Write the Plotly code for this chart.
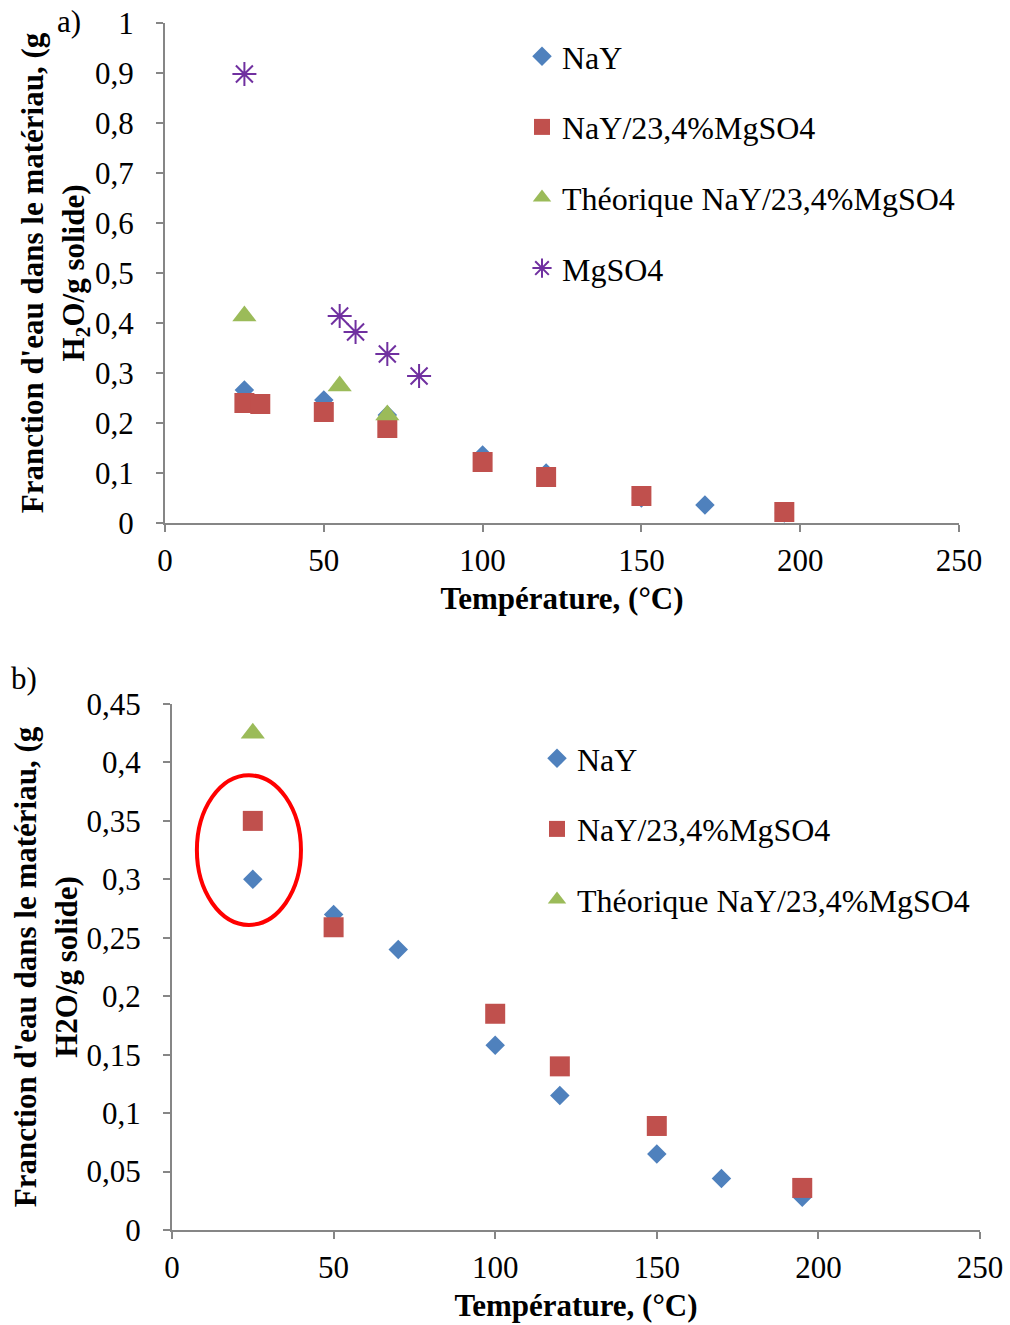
import plotly.graph_objects as go

# ---------- Data: panel a) ----------
a_nay_x = [25, 50, 70, 100, 120, 150, 170, 195]
a_nay_y = [0.266, 0.246, 0.216, 0.136, 0.10, 0.05, 0.036, 0.02]
a_mix_x = [25, 30, 50, 70, 100, 120, 150, 195]
a_mix_y = [0.240, 0.238, 0.222, 0.190, 0.122, 0.092, 0.054, 0.022]
a_theo_x = [25, 55, 70]
a_theo_y = [0.414, 0.274, 0.216]
a_mg_x = [25, 55, 60, 70, 80]
a_mg_y = [0.898, 0.414, 0.382, 0.338, 0.294]

# ---------- Data: panel b) ----------
b_nay_x = [25, 50, 70, 100, 120, 150, 170, 195]
b_nay_y = [0.300, 0.270, 0.240, 0.158, 0.115, 0.065, 0.044, 0.028]
b_mix_x = [25, 50, 100, 120, 150, 195]
b_mix_y = [0.350, 0.259, 0.185, 0.140, 0.089, 0.036]
b_theo_x = [25]
b_theo_y = [0.425]

# ---------- Tick labels ----------
x_ticks = [0, 50, 100, 150, 200, 250]
x_text = ["0", "50", "100", "150", "200", "250"]
a_yticks = [0, 0.1, 0.2, 0.3, 0.4, 0.5, 0.6, 0.7, 0.8, 0.9, 1.0]
a_ytext = ["0", "0,1", "0,2", "0,3", "0,4", "0,5", "0,6", "0,7", "0,8", "0,9", "1"]
b_yticks = [0, 0.05, 0.1, 0.15, 0.2, 0.25, 0.3, 0.35, 0.4, 0.45]
b_ytext = ["0", "0,05", "0,1", "0,15", "0,2", "0,25", "0,3", "0,35", "0,4", "0,45"]

names = ["NaY", "NaY/23,4%MgSO4", "Théorique NaY/23,4%MgSO4", "MgSO4"]
BLUE, RED, GREEN, PURPLE = "#4F81BD", "#C0504D", "#9BBB59", "#7030A0"

FONT = "Liberation Serif"
AXCOL = "#868686"
FS = 31
TFS = 31
LFS = 32

fig = go.Figure()

def add(x, y, name, color, symbol, size, xa, ya, legend, grp):
    mk = dict(color=color, symbol=symbol, size=size)
    if symbol.endswith("open"):
        mk["line"] = dict(color=color, width=2)
    fig.add_trace(go.Scatter(x=x, y=y, mode="markers", name=name, marker=mk,
                             xaxis=xa, yaxis=ya, legend=legend, legendgroup=grp,
                             cliponaxis=False))

add(a_nay_x, a_nay_y, names[0], BLUE, "diamond", 15, "x", "y", "legend", "a1")
add(a_mix_x, a_mix_y, names[1], RED, "square", 20, "x", "y", "legend", "a2")
add(a_theo_x, a_theo_y, names[2], GREEN, "triangle-up", 21, "x", "y", "legend", "a3")
add(a_mg_x, a_mg_y, names[3], PURPLE, "asterisk-open", 20, "x", "y", "legend", "a4")

add(b_nay_x, b_nay_y, names[0], BLUE, "diamond", 15, "x2", "y2", "legend2", "b1")
add(b_mix_x, b_mix_y, names[1], RED, "square", 20, "x2", "y2", "legend2", "b2")
add(b_theo_x, b_theo_y, names[2], GREEN, "triangle-up", 21, "x2", "y2", "legend2", "b3")

W, H = 1010, 1325

def xax(domain, anchor):
    return dict(domain=domain, anchor=anchor, range=[0, 250], tickvals=x_ticks, ticktext=x_text,
                showline=True, linecolor=AXCOL, linewidth=2, ticks="outside", tickcolor=AXCOL,
                ticklen=7, tickwidth=2, showgrid=False, zeroline=False, automargin=False,
                ticklabelstandoff=2,
                tickfont=dict(family=FONT, size=FS, color="black"),
                title=dict(text="<b>Température, (°C)</b>", font=dict(family=FONT, size=TFS, color="black"),
                           standoff=10))

def yax(domain, anchor, rng, tv, tt, title, standoff):
    return dict(domain=domain, anchor=anchor, range=rng, tickvals=tv, ticktext=tt,
                showline=True, linecolor=AXCOL, linewidth=2, ticks="outside", tickcolor=AXCOL,
                ticklen=7, tickwidth=2, showgrid=False, zeroline=False, automargin=False,
                ticklabelstandoff=16,
                tickfont=dict(family=FONT, size=FS, color="black"),
                title=dict(text=title, font=dict(family=FONT, size=TFS, color="black"), standoff=standoff))

fig.update_layout(
    width=W, height=H, margin=dict(l=0, r=0, t=0, b=0, autoexpand=False),
    paper_bgcolor="white", plot_bgcolor="white",
    xaxis=xax([165 / W, 959 / W], "y"),
    yaxis=yax([1 - 523 / H, 1 - 23 / H], "x", [0, 1], a_yticks, a_ytext,
              "<b>Franction d'eau dans le matériau, (g<br>H<sub>2</sub>O/g solide)</b>", 0),
    xaxis2=xax([172 / W, 980 / W], "y2"),
    yaxis2=yax([1 - 1230 / H, 1 - 704 / H], "x2", [0, 0.45], b_yticks, b_ytext,
               "<b>Franction d'eau dans le matériau, (g<br>H2O/g solide)</b>", 0),
    legend=dict(x=522 / W, y=1 - 29 / H, xanchor="left", yanchor="top",
                font=dict(family=FONT, size=LFS, color="black"), tracegroupgap=26,
                bgcolor="rgba(0,0,0,0)", itemsizing="trace"),
    legend2=dict(x=537 / W, y=1 - 731 / H, xanchor="left", yanchor="top",
                 font=dict(family=FONT, size=LFS, color="black"), tracegroupgap=26,
                 bgcolor="rgba(0,0,0,0)", itemsizing="trace"),
    showlegend=True,
    annotations=[
        dict(text="a)", x=55 / W, y=1 - 22 / H, xref="paper", yref="paper", xanchor="left",
             yanchor="middle", showarrow=False, font=dict(family=FONT, size=FS, color="black")),
        dict(text="b)", x=9 / W, y=1 - 678 / H, xref="paper", yref="paper", xanchor="left",
             yanchor="middle", showarrow=False, font=dict(family=FONT, size=FS, color="black")),
    ],
    shapes=[
        dict(type="circle", xref="x2", yref="y2", x0=7.7, x1=39.9, y0=0.261, y1=0.389,
             line=dict(color="#FF0000", width=4)),
    ],
)

fig.write_html("out.html", config={"displayModeBar": False},
               post_script="document.body.style.margin='0';document.body.style.overflow='hidden';")
